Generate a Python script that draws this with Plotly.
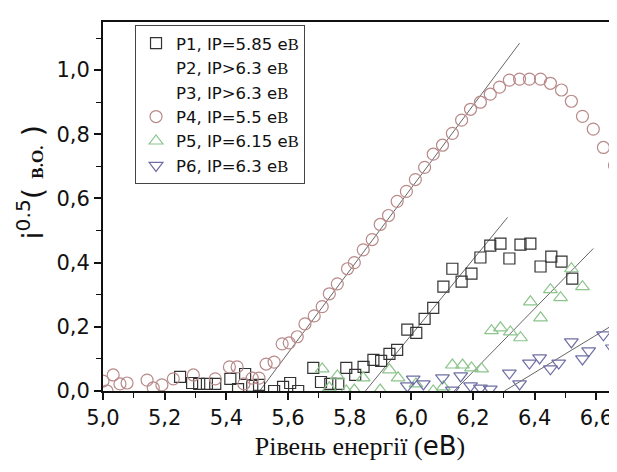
import plotly.graph_objects as go

# ---- data ----
p1_x = [5.250, 5.289, 5.312, 5.337, 5.364, 5.413, 5.438, 5.461, 5.484, 5.506,
        5.555, 5.584, 5.607, 5.633, 5.682, 5.707, 5.737, 5.763, 5.789, 5.818,
        5.845, 5.877, 5.902, 5.929, 5.954, 5.987, 6.016, 6.043, 6.071, 6.104,
        6.133, 6.163, 6.195, 6.224, 6.256, 6.289, 6.318, 6.354, 6.386, 6.419,
        6.454, 6.487, 6.522]
p1_y = [0.044, 0.025, 0.022, 0.022, 0.022, 0.038, 0.006, 0.053, 0.016, 0.019,
        0.000, 0.013, 0.025, 0.000, 0.072, 0.028, 0.022, 0.022, 0.072, 0.050,
        0.075, 0.097, 0.094, 0.116, 0.128, 0.191, 0.181, 0.225, 0.259, 0.325,
        0.381, 0.341, 0.366, 0.416, 0.453, 0.459, 0.413, 0.456, 0.459, 0.388,
        0.419, 0.403, 0.350]

p4_x = [5.000, 5.013, 5.033, 5.055, 5.078, 5.143, 5.163, 5.191, 5.228, 5.293,
        5.364, 5.410, 5.435, 5.457, 5.484, 5.506, 5.529, 5.555, 5.581, 5.604,
        5.630, 5.655, 5.685, 5.711, 5.734, 5.760, 5.793, 5.815, 5.844, 5.873,
        5.899, 5.926, 5.954, 5.984, 6.013, 6.043, 6.071, 6.101, 6.133, 6.163,
        6.192, 6.224, 6.256, 6.286, 6.318, 6.351, 6.383, 6.419, 6.451, 6.487,
        6.519, 6.555, 6.590, 6.623, 6.659]
p4_y = [0.031, 0.000, 0.050, 0.022, 0.025, 0.034, 0.010, 0.019, 0.038, 0.050,
        0.038, 0.075, 0.075, 0.022, 0.040, 0.040, 0.084, 0.090, 0.147, 0.150,
        0.169, 0.209, 0.234, 0.263, 0.303, 0.334, 0.381, 0.400, 0.440, 0.472,
        0.519, 0.547, 0.591, 0.622, 0.659, 0.697, 0.738, 0.766, 0.803, 0.844,
        0.878, 0.900, 0.925, 0.947, 0.969, 0.972, 0.972, 0.972, 0.959, 0.938,
        0.903, 0.856, 0.816, 0.759, 0.703]

p5_x = [5.711, 5.734, 5.760, 5.789, 5.815, 5.844, 5.899, 5.929, 5.957, 6.015,
        6.071, 6.104, 6.133, 6.166, 6.195, 6.228, 6.260, 6.289, 6.321, 6.354,
        6.386, 6.419, 6.451, 6.484, 6.519, 6.555]
p5_y = [0.069, 0.010, 0.047, 0.000, 0.003, 0.041, 0.003, 0.066, 0.041, 0.022,
        0.000, 0.013, 0.081, 0.081, 0.072, 0.069, 0.188, 0.197, 0.184, 0.166,
        0.278, 0.228, 0.316, 0.291, 0.381, 0.325]

p6_x = [5.987, 6.006, 6.039, 6.101, 6.133, 6.160, 6.192, 6.224, 6.256, 6.318,
        6.351, 6.383, 6.416, 6.451, 6.478, 6.519, 6.555, 6.575, 6.623, 6.652]
p6_y = [0.016, 0.037, 0.022, 0.041, 0.003, 0.047, 0.016, 0.009, 0.006, 0.056,
        0.022, 0.087, 0.103, 0.069, 0.087, 0.153, 0.100, 0.125, 0.175, 0.134]

# linear fits (end points)
fit_p1_x = [5.851, 6.312]
fit_p1_y = [0.0, 0.541]
fit_p4_x = [5.508, 6.351]
fit_p4_y = [0.0, 1.084]
fit_p5_x = [6.139, 6.590]
fit_p5_y = [0.0, 0.444]
fit_p6_x = [6.302, 6.649]
fit_p6_y = [0.0, 0.203]

serif_B = "<span style='font-family:Liberation Serif'>B</span>"
names = [
    "P1, IP=5.85 e" + serif_B,
    "P2, IP>6.3 e" + serif_B,
    "P3, IP>6.3 e" + serif_B,
    "P4, IP=5.5 e" + serif_B,
    "P5, IP=6.15 e" + serif_B,
    "P6, IP=6.3 e" + serif_B,
]

c_sq = "#333333"
c_ci = "#b98a8a"
c_gr = "#8cc48c"
c_bl = "#6e6ea4"
c_fit = "#666666"

fig = go.Figure()

for fx, fy in [(fit_p1_x, fit_p1_y), (fit_p4_x, fit_p4_y),
               (fit_p5_x, fit_p5_y), (fit_p6_x, fit_p6_y)]:
    fig.add_trace(go.Scatter(x=fx, y=fy, mode="lines",
                             line=dict(color=c_fit, width=1),
                             showlegend=False, hoverinfo="skip"))

def add_pts(x, y, name, sym, col, size, grp):
    fig.add_trace(go.Scatter(x=x, y=y, mode="markers", name=name,
                             legendgroup=grp,
                             marker=dict(symbol=sym, size=size, color=col,
                                         line=dict(color=col, width=1.2))))

add_pts(p1_x, p1_y, names[0], "square-open", c_sq, 11, "g1")
for i, grp in ((1, "g2"), (2, "g3")):
    fig.add_trace(go.Scatter(x=[None], y=[None], mode="markers", name=names[i],
                             legendgroup=grp,
                             marker=dict(symbol="circle", size=6,
                                         color="rgba(0,0,0,0)",
                                         line=dict(width=0))))
add_pts(p4_x, p4_y, names[3], "circle-open", c_ci, 12, "g4")
add_pts(p5_x, p5_y, names[4], "triangle-up-open", c_gr, 12, "g5")
add_pts(p6_x, p6_y, names[5], "triangle-down-open", c_bl, 12, "g6")

tick_font = dict(size=21, family="DejaVu Sans", color="#111")

# the page body adds an 8 px margin, so the figure is sized/offset to compensate
fig.update_layout(
    width=609, height=464,
    margin=dict(l=95, r=0, t=14, b=81, autoexpand=False),
    paper_bgcolor="white", plot_bgcolor="white",
    separators=",.",
    font=dict(family="DejaVu Sans", color="#111"),
    showlegend=True,
    legend=dict(x=0.0623, y=0.992, xanchor="left", yanchor="top",
                bordercolor="#444", borderwidth=1, bgcolor="white",
                font=dict(size=16.5, family="DejaVu Sans", color="#111"),
                traceorder="grouped", tracegroupgap=0,
                itemwidth=30),
    xaxis=dict(range=[5.0, 6.667], dtick=0.2, tick0=5.0, tickformat=".1f",
               automargin=False,
               showgrid=False, zeroline=False,
               showline=True, linecolor="#111", linewidth=2, mirror=True,
               ticks="outside", ticklen=7, tickwidth=1.5, tickcolor="#111",
               minor=dict(dtick=0.1, ticks="outside", ticklen=5,
                          tickwidth=1.2, tickcolor="#111"),
               tickfont=tick_font,
               title=dict(text="Рівень енергії (<span style='font-family:DejaVu Sans'>eB</span>)",
                          font=dict(size=26, family="Liberation Serif"),
                          standoff=8)),
    yaxis=dict(range=[0, 1.15], dtick=0.2, tick0=0, tickformat=".1f",
               automargin=False,
               showgrid=False, zeroline=False,
               showline=True, linecolor="#111", linewidth=2, mirror=False,
               ticks="outside", ticklen=7, tickwidth=1.5, tickcolor="#111",
               minor=dict(dtick=0.1, ticks="outside", ticklen=5,
                          tickwidth=1.2, tickcolor="#111"),
               tickfont=tick_font),
    annotations=[dict(
        text="i<sup>0.5</sup>( <span style='font-family:Liberation Serif;font-size:17px'><b>В.О.</b></span> )",
        xref="paper", yref="paper", x=-0.142, y=0.565,
        xanchor="center", yanchor="middle", textangle=-90, showarrow=False,
        font=dict(size=29, family="DejaVu Sans", color="#111"))],
)

fig.write_html("out.html")
